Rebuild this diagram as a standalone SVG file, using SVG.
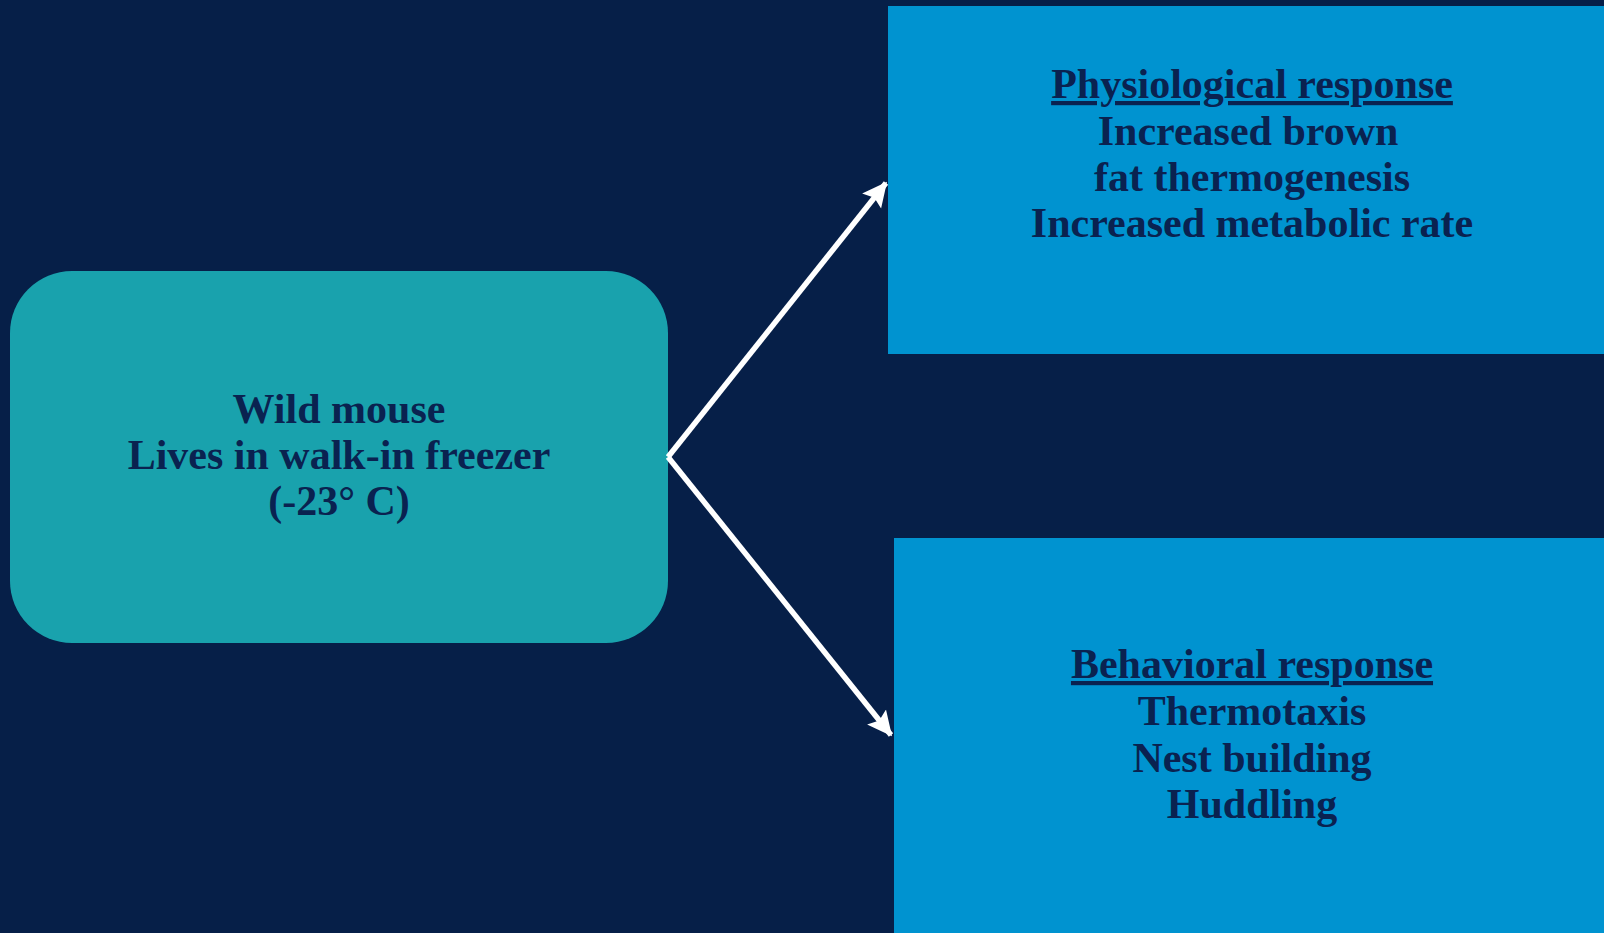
<svg xmlns="http://www.w3.org/2000/svg" width="1604" height="933" viewBox="0 0 1604 933">
<style>
.t{font-family:"Liberation Serif","Times New Roman",serif;font-weight:bold;font-size:42px;fill:#0a2250;text-anchor:middle}
.u{text-decoration:underline}
.c{stroke:#ffffff;stroke-width:5.5;fill:none}
</style>
<defs>
<marker id="ah" markerWidth="6" markerHeight="6" refX="4.2" refY="2.5" orient="auto" markerUnits="strokeWidth">
<path d="M0,0.3 L4.5,2.5 L0,4.7 L0.8,2.5 Z" fill="#ffffff"/>
</marker>
</defs>
<rect width="1604" height="933" fill="#061f48"/>
<g id="mouse">
<rect x="10" y="271" width="658" height="372" rx="62" ry="62" fill="#19a2ad"/>
<text class="t" x="339" y="423">Wild mouse</text>
<text class="t" x="339" y="469">Lives in walk-in freezer</text>
<text class="t" x="339" y="515">(-23° C)</text>
</g>
<g id="physio">
<rect x="888" y="6" width="716" height="348" fill="#0093d0"/>
<text class="t u" x="1252" y="98">Physiological response</text>
<text class="t" x="1248" y="145">Increased brown</text>
<text class="t" x="1252" y="191">fat thermogenesis</text>
<text class="t" x="1252" y="237">Increased metabolic rate</text>
</g>
<g id="behav">
<rect x="894" y="538" width="710" height="395" fill="#0093d0"/>
<text class="t u" x="1252" y="678">Behavioral response</text>
<text class="t" x="1252" y="725">Thermotaxis</text>
<text class="t" x="1252" y="772">Nest building</text>
<text class="t" x="1252" y="818">Huddling</text>
</g>
<g id="connectors">
<path class="c" d="M668,457 L886,183" marker-end="url(#ah)"/>
<path class="c" d="M668,457 L891,735" marker-end="url(#ah)"/>
</g>
</svg>
